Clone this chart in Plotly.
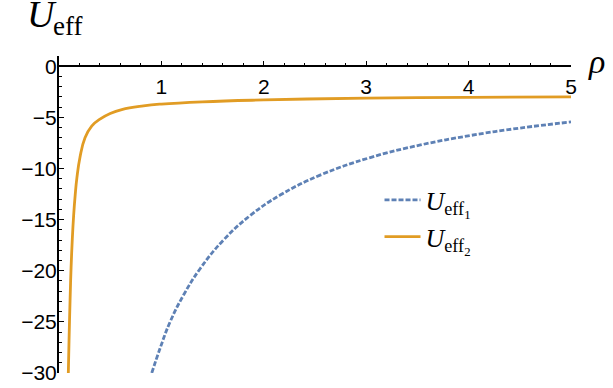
import plotly.graph_objects as go

# --- data ---
rho_1 = [0.906, 0.99, 1.085, 1.215, 1.378, 1.606, 1.867, 2.16, 2.55, 3.04, 3.53, 4.02, 4.5, 5.0]
u_eff_1 = [-30.0, -27.5, -25.0, -22.4, -19.8, -17.0, -14.6, -12.6, -10.65, -8.93, -7.7, -6.77, -6.05, -5.45]

rho_2 = [0.091, 0.098, 0.108, 0.118, 0.130, 0.143, 0.158, 0.175, 0.205, 0.254, 0.319, 0.40, 0.50,
         0.613, 0.825, 1.0, 1.4, 2.0, 3.0, 4.0, 5.0]
u_eff_2 = [-30.0, -26.8, -22.9, -19.7, -16.9, -14.6, -12.6, -10.9, -8.9, -7.0, -5.85, -5.18, -4.63,
           -4.24, -3.88, -3.7, -3.48, -3.3, -3.12, -3.05, -3.0]

x_ticks = [1, 2, 3, 4, 5]
y_ticks = [0, -5, -10, -15, -20, -25, -30]
x_range = [0, 5]
y_range = [-30, 1]

BLUE = "#5E81B5"
ORANGE = "#E19C24"
SERIF = "Liberation Serif, Times New Roman, serif"

fig = go.Figure()
fig.add_trace(go.Scatter(
    x=rho_1, y=u_eff_1, mode="lines",
    line=dict(color=BLUE, width=2.8, dash="5px,2px", shape="spline", smoothing=1.2),
    name="<i>U</i><sub>eff<sub>1</sub></sub>",
))
fig.add_trace(go.Scatter(
    x=rho_2, y=u_eff_2, mode="lines",
    line=dict(color=ORANGE, width=2.8, shape="spline", smoothing=1.3),
    name="<i>U</i><sub>eff<sub>2</sub></sub>",
))

x_axis_pos = (0 - y_range[0]) / (y_range[1] - y_range[0])

fig.update_layout(
    width=613, height=388,
    margin=dict(l=59, r=42, t=56, b=15, autoexpand=False),
    paper_bgcolor="white", plot_bgcolor="white",
    font=dict(family="Liberation Sans, Arial, sans-serif", color="black", size=21),
    showlegend=True,
    legend=dict(
        x=0.626, y=0.62, xanchor="left", yanchor="top",
        font=dict(family=SERIF, size=26, color="black"),
        bgcolor="rgba(0,0,0,0)", tracegroupgap=0, itemwidth=36,
    ),
    xaxis=dict(
        range=x_range, anchor="free", position=x_axis_pos, side="bottom",
        automargin=False,
        showline=True, linecolor="black", linewidth=2,
        showgrid=False, zeroline=False,
        tickvals=x_ticks, ticks="inside", ticklen=4, tickwidth=1.4, tickcolor="black",
        minor=dict(dtick=0.2, tick0=0, ticks="inside", ticklen=2.5, tickwidth=1.2,
                   tickcolor="black", showgrid=False),
        tickfont=dict(size=21),
        ticklabelstandoff=2,
    ),
    yaxis=dict(
        range=y_range, automargin=False,
        showline=True, linecolor="black", linewidth=2,
        showgrid=False, zeroline=False,
        tickvals=y_ticks, ticks="inside", ticklen=5, tickwidth=1.4, tickcolor="black",
        minor=dict(dtick=1, tick0=0, ticks="inside", ticklen=3, tickwidth=1.2,
                   tickcolor="black", showgrid=False),
        tickfont=dict(size=21),
        ticklabelstandoff=-4,
    ),
    annotations=[
        dict(text="<i>U</i>",
             xref="paper", yref="paper", x=-0.0665, y=1.0, yshift=65,
             xanchor="left", yanchor="top", showarrow=False,
             font=dict(family=SERIF, size=38, color="black")),
        dict(text="eff",
             xref="paper", yref="paper", x=-0.0155, y=1.0, yshift=47,
             xanchor="left", yanchor="top", showarrow=False,
             font=dict(family=SERIF, size=27, color="black")),
        dict(text="<i>\u03c1</i>",
             xref="paper", yref="paper", x=1.0, y=x_axis_pos, xshift=15, yshift=5,
             xanchor="left", yanchor="middle", showarrow=False,
             font=dict(family=SERIF, size=34, color="black")),
    ],
)

fig.write_html("out.html", config={"displayModeBar": False},
               post_script="document.body.style.margin='0px';")
